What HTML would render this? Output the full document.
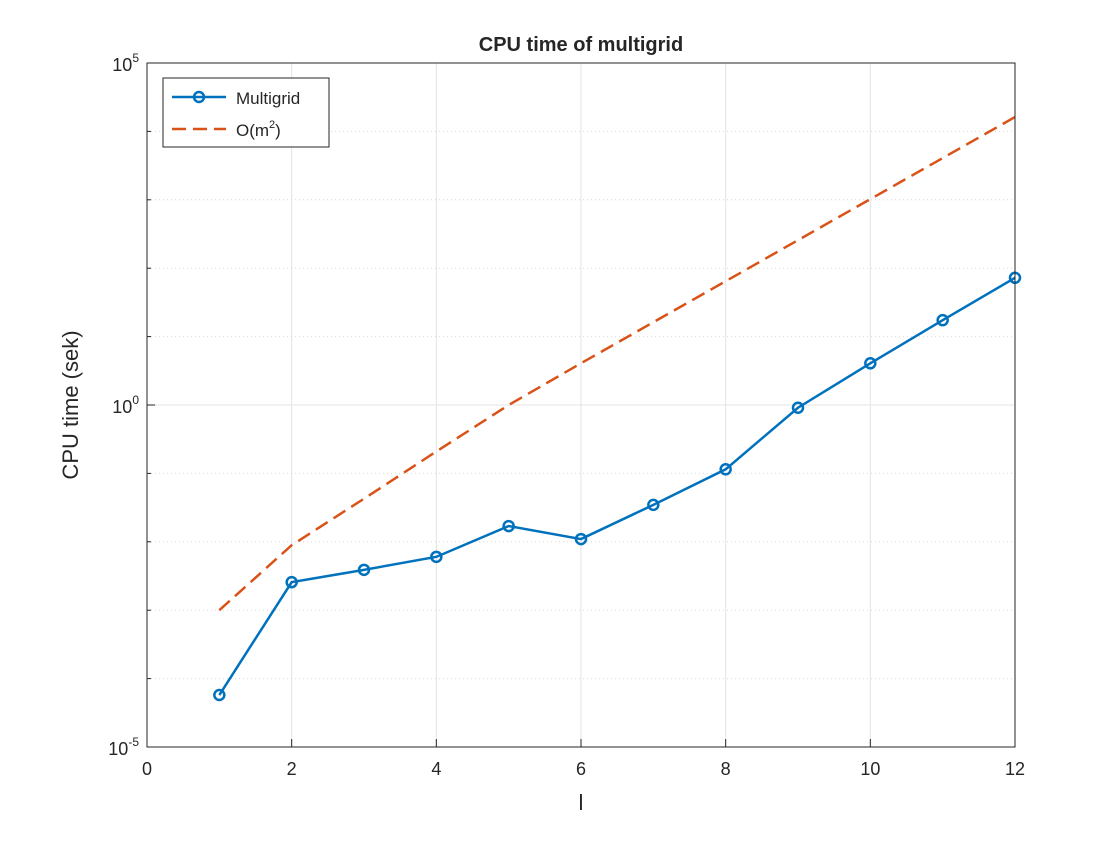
<!DOCTYPE html>
<html><head><meta charset="utf-8"><style>
body{margin:0;background:#fff;}
svg text{font-family:"Liberation Sans",sans-serif;fill:#262626;}
</style></head><body>
<svg id="chart" width="1120" height="840" xmlns="http://www.w3.org/2000/svg">
<rect x="0" y="0" width="1120" height="840" fill="#fff"/>
<rect x="147" y="63" width="868" height="684" fill="#fff"/>
<g id="grid"></g>
<g id="series"></g>
<rect x="147" y="63" width="868" height="684" fill="none" stroke="#262626" stroke-width="1"/>
<g id="ticks"></g>
<text x="581" y="51" text-anchor="middle" font-size="20" font-weight="bold" fill="#000">CPU time of multigrid</text>
<text x="581" y="810" text-anchor="middle" font-size="22">l</text>
<text x="0" y="0" transform="translate(78,405) rotate(-90)" text-anchor="middle" font-size="22">CPU time (sek)</text>
<g>
<rect x="163" y="78" width="166" height="69" fill="#fff" stroke="#262626" stroke-width="1"/>
<g>
<line x1="172" y1="97" x2="226" y2="97" stroke="#0072BD" stroke-width="2.5"/>
<circle cx="199" cy="97" r="5" fill="none" stroke="#0072BD" stroke-width="2.5"/>
<text x="236" y="104" font-size="17" fill="#000">Multigrid</text>
</g>
<g>
<line x1="172" y1="129" x2="226" y2="129" stroke="#D95319" stroke-width="2.5" stroke-dasharray="14,7"/>
<text x="236" y="136" font-size="17" fill="#000">O(m<tspan font-size="11" dy="-8">2</tspan><tspan dy="8">)</tspan></text>
</g>
</g>
</svg>
<script>
const levels=[1,2,3,4,5,6,7,8,9,10,11,12];
const multigridLog=[-4.24,-2.59,-2.41,-2.22,-1.77,-1.96,-1.46,-0.94,-0.04,0.61,1.24,1.86];
const om2Log=[-3.0,-2.05,-1.37,-0.68,0,0.61,1.21,1.81,2.41,3.01,3.61,4.21];
const xTicks=[0,2,4,6,8,10,12];
const yTickExps=[-5,0,5];
const X0=147,X1=1015,Y0=747,Y1=63;
const xs=v=>X0+(v-0)/(12-0)*(X1-X0);
const ys=e=>Y0-(e+5)/10*(Y0-Y1);
const NS="http://www.w3.org/2000/svg";
function mk(t,a,p){const e=document.createElementNS(NS,t);for(const k in a)e.setAttribute(k,a[k]);p.appendChild(e);return e;}
const grid=document.getElementById('grid'),ticks=document.getElementById('ticks'),series=document.getElementById('series');
for(const v of xTicks){
 const g=mk('line',{x1:xs(v),x2:xs(v),y1:Y1,y2:Y0,stroke:'#e3e3e3','stroke-width':1},grid);
 
 
 mk('line',{x1:xs(v),x2:xs(v),y1:Y0,y2:Y0-8,stroke:'#262626'},ticks);
 const t=mk('text',{x:xs(v),y:Y0+28,'text-anchor':'middle','font-size':'18'},ticks);
 t.textContent=v;
 
 
}
for(let e=-5;e<=5;e++){
 const major=yTickExps.includes(e);
 const g=mk('line',{x1:X0,x2:X1,y1:ys(e),y2:ys(e),stroke:major?'#e3e3e3':'#d8d8d8','stroke-width':1,'stroke-dasharray':major?'none':'1,3'},grid);
 
 
 mk('line',{x1:X0,x2:X0+(major?8:4),y1:ys(e),y2:ys(e),stroke:'#262626'},ticks);
}
for(const e of yTickExps){
 const t=mk('text',{x:X0-8,y:ys(e)+8,'text-anchor':'end','font-size':'18'},ticks);
 t.innerHTML='10<tspan font-size="12" dy="-9">'+e+'</tspan>';
 
 
}
const om=mk('polyline',{points:levels.map((l,i)=>xs(l)+','+ys(om2Log[i])).join(' '),fill:'none',stroke:'#D95319','stroke-width':2.5,'stroke-dasharray':'14,7'},series);


const mg=mk('polyline',{points:levels.map((l,i)=>xs(l)+','+ys(multigridLog[i])).join(' '),fill:'none',stroke:'#0072BD','stroke-width':2.5},series);


levels.forEach((l,i)=>{
 const c=mk('circle',{cx:xs(l),cy:ys(multigridLog[i]),r:5,fill:'none',stroke:'#0072BD','stroke-width':2.5},series);
 
 
});
</script>
</body></html>
